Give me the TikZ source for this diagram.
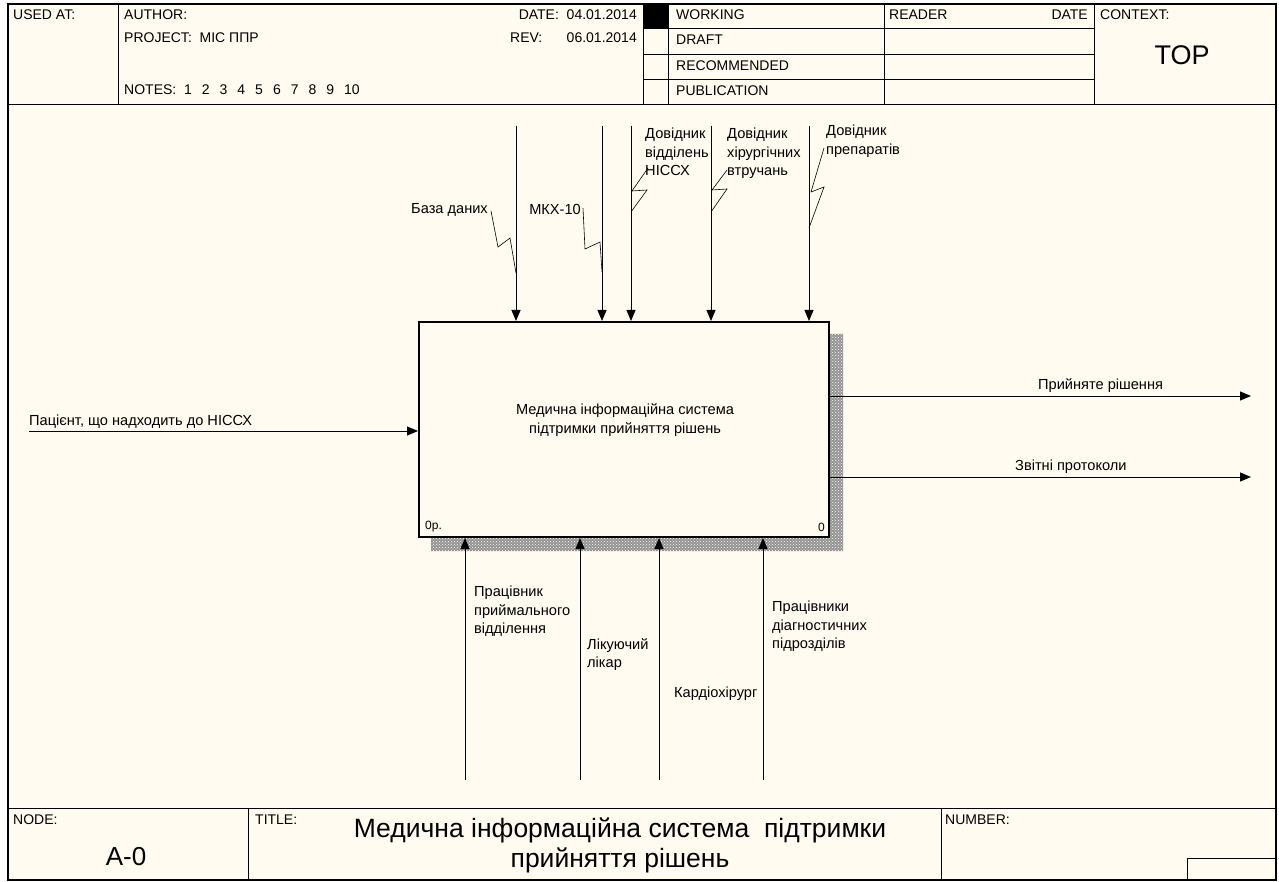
\documentclass[tikz,border=0pt]{standalone}
\usepackage{fontspec}
\setmainfont{Liberation Sans}
\usetikzlibrary{arrows.meta,patterns}
\definecolor{paper}{RGB}{255,251,240}
\begin{document}
\begin{tikzpicture}[x=1pt,y=-1pt,
  lbl/.style={inner sep=0pt,font=\fontsize{14.6}{18.5}\selectfont,align=left},
  hdr/.style={inner sep=0pt,font=\fontsize{14}{16}\selectfont,anchor=west},
  big/.style={inner sep=0pt,font=\fontsize{26}{30}\selectfont},
  arr/.style={line width=1pt,-{Triangle[length=11pt,width=9pt]}},
  zig/.style={line width=0.6pt},
  rule/.style={line width=0.8pt}]
\useasboundingbox (0,0) rectangle (1279,882);
\fill[white] (0,0) rectangle (1279,882);
\fill[paper] (8,4) rectangle (1276,880);
% frame
\draw[line width=1.3pt] (8,4) rectangle (1276,880);
\draw[line width=2.5pt] (8,4) -- (8,880);
% top header
\draw[rule] (8,104) -- (1276,104);
\foreach \x in {118,643,668,884,1094} \draw[rule] (\x,4) -- (\x,104);
\foreach \y in {28,54,79} \draw[rule] (643,\y) -- (1094,\y);
\fill (643,4) rectangle (668,28);
\node[hdr] (usedat) at (13,15) {USED AT:};
\node[hdr] (author) at (124,15) {AUTHOR:};
\node[hdr] (project) at (124,38) {PROJECT:\ \ МІС ППР};
\node[hdr] (notes) at (124,90) {NOTES:\ \ 1\hspace{10pt}2\hspace{10pt}3\hspace{10pt}4\hspace{10pt}5\hspace{10pt}6\hspace{10pt}7\hspace{10pt}8\hspace{10pt}9\hspace{10pt}10};
\node[hdr,anchor=east] (date) at (637,15) {DATE:\ \ 04.01.2014};
\node[hdr] (rev) at (510,38) {REV:};
\node[hdr,anchor=east] (revd) at (637,38) {06.01.2014};
\node[hdr] (working) at (676,15) {WORKING};
\node[hdr] (draft) at (676,40) {DRAFT};
\node[hdr] (recomm) at (676,66) {RECOMMENDED};
\node[hdr] (public) at (676,91) {PUBLICATION};
\node[hdr] (reader) at (889,15) {READER};
\node[hdr,anchor=east] (rdate) at (1088,15) {DATE};
\node[hdr] (context) at (1100,15) {CONTEXT:};
\node[big,font=\fontsize{27}{30}\selectfont] (top) at (1182,55) {TOP};
% bottom header
\draw[rule] (8,808) -- (1276,808);
\draw[rule] (248,808) -- (248,880);
\draw[rule] (941,808) -- (941,880);
\draw[rule] (1187,880) -- (1187,858) -- (1276,858);
\node[hdr] (nodel) at (13,820) {NODE:};
\node[big] (nodenum) at (126,857) {A-0};
\node[hdr] (titlel) at (255,820) {TITLE:};
\node[big,font=\fontsize{26.5}{30}\selectfont,align=center,anchor=north] (title) at (620,818) {Медична інформаційна система\ \ підтримки\\прийняття рішень};
\node[hdr] (numberl) at (945,820) {NUMBER:};
% shadow
\fill[black!42] (830,334) -- (843,334) -- (843,551) -- (431,551) -- (431,538) -- (830,538) -- cycle;
\fill[pattern=crosshatch dots,pattern color=paper] (830,334) -- (843,334) -- (843,551) -- (431,551) -- (431,538) -- (830,538) -- cycle;
% main box
\node[draw,line width=2pt,fill=paper,minimum width=410pt,minimum height=215pt,inner sep=0pt] (A0) at (624,429.5) {};
\node[lbl,align=center] (A0t) at (625,420) {Медична інформаційна система\\ підтримки прийняття рішень};
\node[lbl,font=\fontsize{12}{14}\selectfont,anchor=west] (A0id) at (425,527) {0р.};
\node[lbl,font=\fontsize{12}{14}\selectfont,anchor=east] (A0num) at (825,527) {0};
% controls
\coordinate (c1) at (516,126);
\coordinate (c2) at (602,126);
\coordinate (c3) at (631,126);
\coordinate (c4) at (711,126);
\coordinate (c5) at (809,126);
\foreach \c in {c1,c2,c3,c4,c5} \draw[arr] (\c) -- (\c |- A0.north);
\node[lbl,anchor=east] (l1) at (488,210) {База даних};
\node[lbl,anchor=east] (l2) at (581,209) {МКХ-10};
\node[lbl,anchor=north west] (l3) at (645,128) {Довідник\\відділень\\НІССХ};
\node[lbl,anchor=north west] (l4) at (727,128) {Довідник\\хірургічних\\втручань};
\node[lbl,anchor=north west] (l5) at (826,125) {Довідник\\препаратів};
\draw[zig] (491,211) -- (498,247) -- (510,238) -- (516,273);
\draw[zig] (583,208) -- (585,249) -- (600,242) -- (602,272);
\draw[zig] (648,168) -- (632,191) -- (647,190) -- (631,212);
\draw[zig] (727,170) -- (712,190) -- (727,189) -- (711,212);
\draw[zig] (824,148) -- (811,192) -- (824,187) -- (809,228);
% input
\coordinate (i1) at (29,431);
\draw[arr] (i1) -- (i1 -| A0.west);
\node[lbl,anchor=base west] (li1) at (29,425) {Пацієнт, що надходить до НІССХ};
% outputs
\coordinate (o1) at (1251,396);
\coordinate (o2) at (1251,477);
\draw[arr] (o1 -| A0.east) -- (o1);
\draw[arr] (o2 -| A0.east) -- (o2);
\node[lbl,anchor=base west] (lo1) at (1038,389) {Прийняте рішення};
\node[lbl,anchor=base west] (lo2) at (1015,470) {Звітні протоколи};
% mechanisms
\coordinate (m1) at (465,780);
\coordinate (m2) at (580,780);
\coordinate (m3) at (659,780);
\coordinate (m4) at (763,780);
\foreach \m in {m1,m2,m3,m4} \draw[arr] (\m) -- (\m |- A0.south);
\node[lbl,anchor=north west] (lm1) at (474,586) {Працівник\\приймального\\відділення};
\node[lbl,anchor=north west] (lm2) at (587,638) {Лікуючий\\лікар};
\node[lbl,anchor=north west] (lm3) at (674,687) {Кардіохірург};
\node[lbl,anchor=north west] (lm4) at (772,601) {Працівники\\діагностичних\\підрозділів};
\end{tikzpicture}
\end{document}
